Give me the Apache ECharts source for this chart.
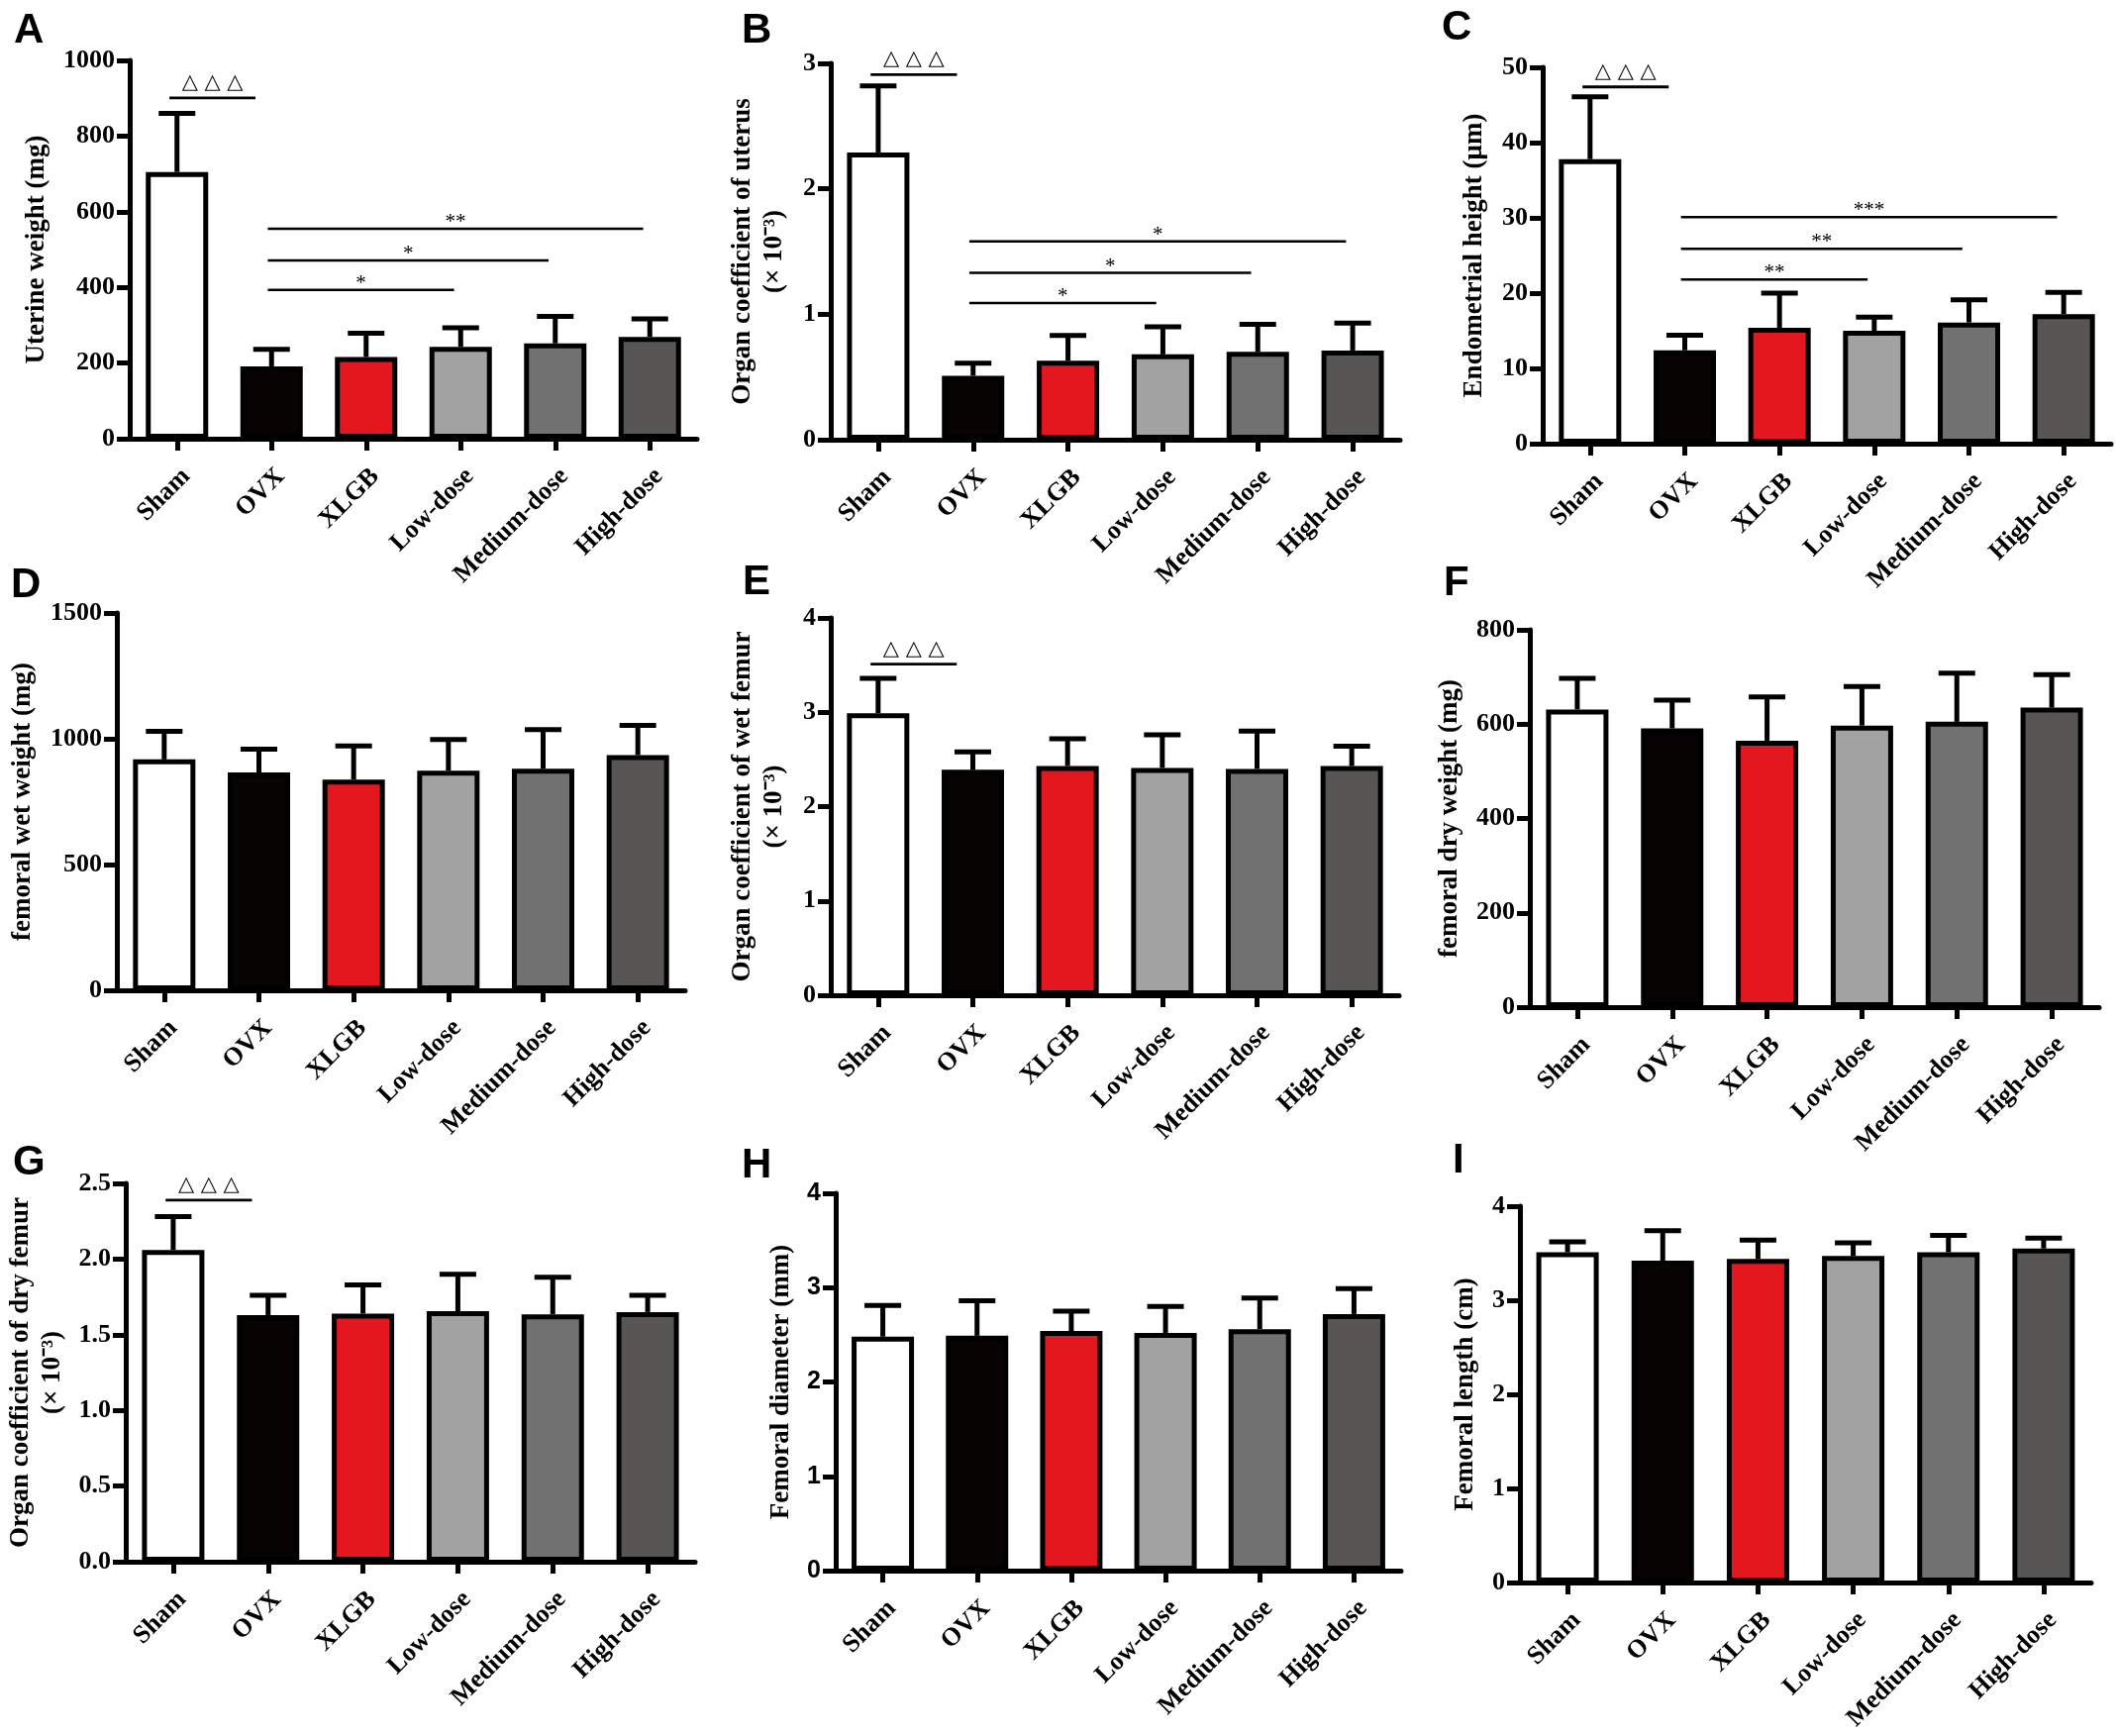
<!DOCTYPE html>
<html>
<head>
<meta charset="utf-8">
<script src="https://cdn.jsdelivr.net/npm/echarts@6/dist/echarts.min.js"></script>
<style>
  html, body { margin: 0; padding: 0; background: #fff; }
  #chart { width: 2138px; height: 1753px; }
</style>
</head>
<body>
<div id="chart"></div>
<script>
const groups = ['Sham', 'OVX', 'XLGB', 'Low-dose', 'Medium-dose', 'High-dose'];

// A - uterine weight (mg)
const uterineWeight = [705, 191, 216, 243, 252, 269];
const uterineWeightSD = [155, 45, 63, 50, 71, 48];
// B - organ coefficient of uterus (x 10^-3)
const uterusCoef = [2.29, 0.51, 0.63, 0.68, 0.70, 0.71];
const uterusCoefSD = [0.53, 0.10, 0.20, 0.22, 0.22, 0.22];
// C - endometrial height (um)
const endoHeight = [37.8, 12.4, 15.4, 15.0, 16.1, 17.2];
const endoHeightSD = [8.3, 2.0, 4.6, 1.8, 3.0, 2.9];
// D - femoral wet weight (mg)
const femurWet = [918, 866, 838, 873, 881, 935];
const femurWetSD = [112, 93, 133, 124, 155, 118];
// E - organ coefficient of wet femur
const wetFemurCoef = [2.99, 2.39, 2.43, 2.41, 2.40, 2.43];
const wetFemurCoefSD = [0.37, 0.19, 0.29, 0.35, 0.40, 0.21];
// F - femoral dry weight (mg)
const femurDry = [631, 591, 565, 597, 605, 635];
const femurDrySD = [66, 60, 93, 83, 103, 70];
// G - organ coefficient of dry femur
const dryFemurCoef = [2.06, 1.63, 1.64, 1.655, 1.635, 1.65];
const dryFemurCoefSD = [0.22, 0.13, 0.19, 0.245, 0.245, 0.11];
// H - femoral diameter (mm)
const femurDiameter = [2.48, 2.49, 2.54, 2.52, 2.56, 2.72];
const femurDiameterSD = [0.33, 0.37, 0.21, 0.28, 0.33, 0.27];
// I - femoral length (cm)
const femurLength = [3.51, 3.42, 3.44, 3.47, 3.51, 3.55];
const femurLengthSD = [0.11, 0.32, 0.20, 0.14, 0.18, 0.11];

// significance marks: [from group, to group, height, text]
const sigA = [[0, 1, 901, '△ △ △'], [1, 3, 393, '*'], [1, 4, 471, '*'], [1, 5, 555, '**']];
const sigB = [[0, 1, 2.91, '△ △ △'], [1, 3, 1.09, '*'], [1, 4, 1.33, '*'], [1, 5, 1.58, '*']];
const sigC = [[0, 1, 47.4, '△ △ △'], [1, 3, 21.8, '**'], [1, 4, 25.9, '**'], [1, 5, 30.1, '***']];
const sigE = [[0, 1, 3.51, '△ △ △']];
const sigG = [[0, 1, 2.39, '△ △ △']];

const barColors = ['#ffffff', '#070303', '#e4171e', '#a1a2a1', '#717171', '#575655'];
const serif = 'Liberation Serif';

const panels = [
  { letter: 'A', lx: 14, ly: 10, rect: [131, 61, 573, 382], mean: uterineWeight, sd: uterineWeightSD,
    max: 1000, interval: 200, name: 'Uterine weight (mg)', gap: 78, sig: sigA },
  { letter: 'B', lx: 749, ly: 10, rect: [839, 64, 575, 380], mean: uterusCoef, sd: uterusCoefSD,
    max: 3, interval: 1, name: 'Organ coefficient of uterus\n(× 10⁻³)', gap: 41, sig: sigB },
  { letter: 'C', lx: 1456, ly: 7, rect: [1558, 68, 574, 380], mean: endoHeight, sd: endoHeightSD,
    max: 50, interval: 10, name: 'Endometrial height (μm)', gap: 53, sig: sigC },
  { letter: 'D', lx: 11, ly: 570, rect: [118, 619, 574, 381], mean: femurWet, sd: femurWetSD,
    max: 1500, interval: 500, name: 'femoral wet weight (mg)', gap: 79, sig: [] },
  { letter: 'E', lx: 750, ly: 567, rect: [839, 624, 574, 381], mean: wetFemurCoef, sd: wetFemurCoefSD,
    max: 4, interval: 1, name: 'Organ coefficient of wet femur\n(× 10⁻³)', gap: 41, sig: sigE },
  { letter: 'F', lx: 1458, ly: 568, rect: [1545, 636, 575, 381], mean: femurDry, sd: femurDrySD,
    max: 800, interval: 200, name: 'femoral dry weight (mg)', gap: 65, sig: [] },
  { letter: 'G', lx: 13, ly: 1153, rect: [127, 1195, 575, 382], mean: dryFemurCoef, sd: dryFemurCoefSD,
    max: 2.5, interval: 0.5, name: 'Organ coefficient of dry femur\n(× 10⁻³)', gap: 58, sig: sigG, fixed: 1 },
  { letter: 'H', lx: 749, ly: 1156, rect: [844, 1205, 571, 381], mean: femurDiameter, sd: femurDiameterSD,
    max: 4, interval: 1, name: 'Femoral diameter (mm)', gap: 39, sig: [], sansTicks: true },
  { letter: 'I', lx: 1467, ly: 1151, rect: [1535, 1218, 577, 380], mean: femurLength, sd: femurLengthSD,
    max: 4, interval: 1, name: 'Femoral length (cm)', gap: 39, sig: [] }
];

function errorRenderItem(params, api) {
  const base = api.coord([api.value(0), api.value(1)]);
  const top = api.coord([api.value(0), api.value(2)]);
  const half = 18.5;
  return {
    type: 'group',
    children: [
      { type: 'line', shape: { x1: base[0], y1: base[1], x2: top[0], y2: top[1] },
        style: { stroke: '#000', lineWidth: 5 } },
      { type: 'line', shape: { x1: top[0] - half, y1: top[1], x2: top[0] + half, y2: top[1] },
        style: { stroke: '#000', lineWidth: 5 } }
    ]
  };
}

function sigRenderItem(list) {
  return function (params, api) {
    const item = list[params.dataIndex];
    const band = api.size([1, 0])[0];
    const isDelta = item[3].indexOf('△') >= 0;
    const off = isDelta ? [-0.08, -0.17] : [-0.04, -0.07];
    const a = api.coord([item[0], item[2]]);
    const b = api.coord([item[1], item[2]]);
    const x1 = a[0] + off[0] * band;
    const x2 = b[0] + off[1] * band;
    const y = a[1];
    return {
      type: 'group',
      children: [
        { type: 'line', shape: { x1: x1, y1: y, x2: x2, y2: y },
          style: { stroke: '#000', lineWidth: isDelta ? 2.8 : 2.5 } },
        { type: 'text', x: (x1 + x2) / 2, y: isDelta ? y - 5 : y + 4,
          style: {
            text: item[3], fill: '#000',
            font: isDelta ? '21px "DejaVu Sans"' : '21px "Liberation Serif"',
            align: 'center', verticalAlign: 'bottom',
            textAlign: 'center', textVerticalAlign: 'bottom'
          } }
      ]
    };
  };
}

const option = {
  backgroundColor: '#fff',
  animation: false,
  title: [],
  grid: [],
  xAxis: [],
  yAxis: [],
  series: []
};

panels.forEach((p, i) => {
  option.title.push({
    text: p.letter, left: p.lx, top: p.ly, padding: 0,
    textStyle: { fontFamily: 'Liberation Sans', fontWeight: 'bold', fontSize: 42, color: '#000' }
  });
  option.grid.push({ left: p.rect[0], top: p.rect[1], width: p.rect[2], height: p.rect[3] });
  option.xAxis.push({
    type: 'category', gridIndex: i, data: groups, boundaryGap: true,
    axisLine: { show: true, lineStyle: { color: '#000', width: 5 } },
    axisTick: { show: true, alignWithLabel: true, length: 12, lineStyle: { color: '#000', width: 5 } },
    axisLabel: {
      interval: 0, rotate: 45, margin: 25, color: '#000',
      align: 'right', verticalAlign: 'top',
      fontFamily: serif, fontWeight: 'bold', fontSize: 26
    },
    splitLine: { show: false }
  });
  option.yAxis.push({
    type: 'value', gridIndex: i, min: 0, max: p.max, interval: p.interval,
    name: p.name, nameLocation: 'middle', nameGap: p.gap,
    nameTextStyle: { fontFamily: serif, fontWeight: 'bold', fontSize: 27, lineHeight: 32, color: '#000' },
    axisLine: { show: true, lineStyle: { color: '#000', width: 5 } },
    axisTick: { show: true, length: 13, lineStyle: { color: '#000', width: 5 } },
    axisLabel: {
      margin: 15, color: '#000',
      fontFamily: p.sansTicks ? 'Liberation Sans' : serif,
      fontWeight: 'bold', fontSize: p.sansTicks ? 25 : 26,
      formatter: p.fixed ? (v => v.toFixed(p.fixed)) : (v => String(v))
    },
    splitLine: { show: false }
  });
  option.series.push({
    type: 'custom', xAxisIndex: i, yAxisIndex: i, z: 1,
    renderItem: errorRenderItem,
    encode: { x: 0, y: [1, 2] },
    data: p.mean.map((m, k) => [k, m, m + p.sd[k]])
  });
  option.series.push({
    type: 'bar', xAxisIndex: i, yAxisIndex: i, z: 2, barWidth: 63,
    data: p.mean.map((m, k) => ({
      value: m,
      itemStyle: { color: barColors[k], borderColor: '#000', borderWidth: 5 }
    }))
  });
  if (p.sig.length) {
    option.series.push({
      type: 'custom', xAxisIndex: i, yAxisIndex: i, z: 3,
      renderItem: sigRenderItem(p.sig),
      encode: { x: 0, y: 1 },
      data: p.sig.map(s => [s[0], s[2]])
    });
  }
});

const chart = echarts.init(document.getElementById('chart'), null, { renderer: 'canvas' });
chart.setOption(option);
</script>
</body>
</html>
